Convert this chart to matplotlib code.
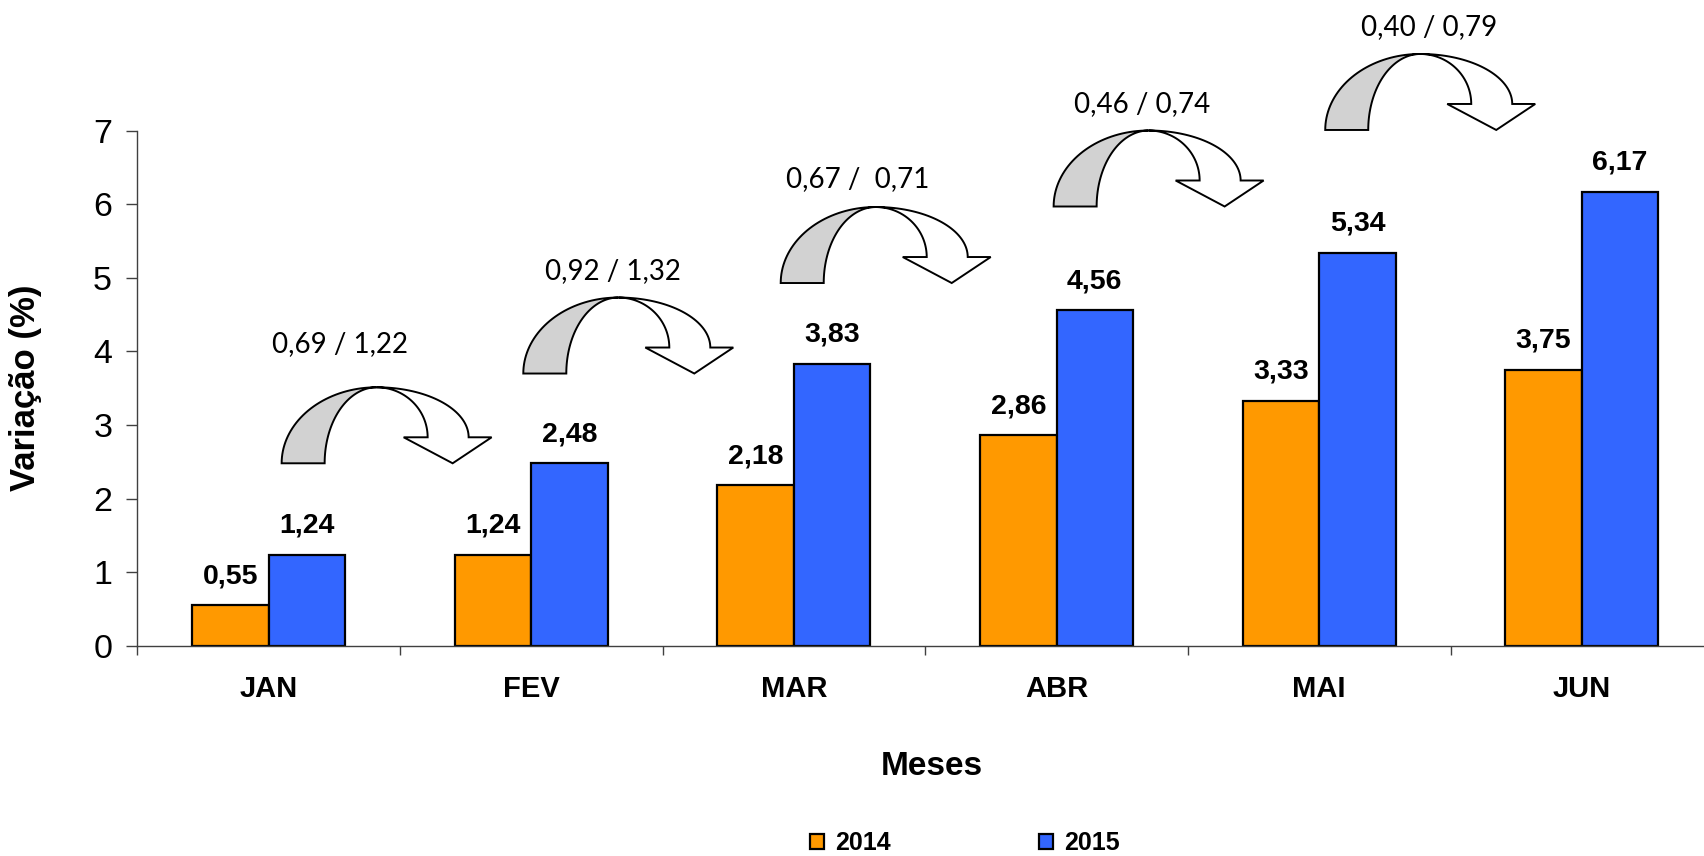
import numpy as np
import matplotlib
matplotlib.use('Agg')
from matplotlib import pyplot as plt
from matplotlib import transforms as mtransforms
from matplotlib.patches import Patch, Polygon

plt.rcParams['font.family'] = ['Liberation Sans', 'DejaVu Sans']

months = ['JAN', 'FEV', 'MAR', 'ABR', 'MAI', 'JUN']
var_2014 = [0.55, 1.24, 2.18, 2.86, 3.33, 3.75]
var_2015 = [1.24, 2.48, 3.83, 4.56, 5.34, 6.17]
# variacao mensal 2014 / 2015 escrita sobre as setas
monthly_text = ['0,69 / 1,22', '0,92 / 1,32', '0,67 /  0,71', '0,46 / 0,74', '0,40 / 0,79']

# onde ficam as setas e os textos (coordenadas dos dados)
arrow_x = [0.050, 0.970, 1.950, 2.989, 4.023]
arrow_y = [2.48, 3.70, 4.93, 5.97, 7.01]
text_x = [0.271, 1.313, 2.244, 3.326, 4.420]
text_y = [3.99, 4.99, 6.24, 7.26, 8.30]

ORANGE = '#FF9900'
BLUE = '#3366FF'


def fmt(v):
    return f'{v:.2f}'.replace('.', ',')


def arc(cx, cy, rx, ry, a0, a1, n=40):
    t = np.radians(np.linspace(a0, a1, n))
    return np.column_stack([cx + rx * np.cos(t), cy + ry * np.sin(t)])


def curved_arrow(ax, x0, y0):
    ''' seta curva (estilo powerpoint), desenhada em pixels a partir de (x0, y0) '''
    k = ax.figure.dpi / 100
    trans = mtransforms.Affine2D().scale(k) + \
        mtransforms.ScaledTranslation(x0, y0, ax.transData)
    back = np.vstack([arc(95, 0, 95, 76, 180, 90), arc(95, 0, 52, 76, 90, 180)])
    front = np.vstack([arc(95, 26, 92, 50, 90, 0),
                       [[210, 26], [171, 0], [122, 26]],
                       arc(95, 26, 51, 50, 0, 90)])
    for pts, fc in ((back, '#D2D2D2'), (front, 'white')):
        ax.add_patch(Polygon(pts, closed=True, facecolor=fc, edgecolor='black',
                             linewidth=1.4, transform=trans, clip_on=False, zorder=3))


fig = plt.figure(figsize=(17.04, 8.56), dpi=100)
ax = fig.add_axes([0.0805, 0.2456, 0.9249, 0.6017])

x = np.arange(len(months))
w = 0.291
b1 = ax.bar(x - w / 2, var_2014, w, color=ORANGE, edgecolor='black', linewidth=1.6)
b2 = ax.bar(x + w / 2, var_2015, w, color=BLUE, edgecolor='black', linewidth=1.6)

for xs, vals in ((x - w / 2, var_2014), (x + w / 2, var_2015)):
    for xi, v in zip(xs, vals):
        ax.annotate(fmt(v), (xi, v), xytext=(0, 16), textcoords='offset points',
                    ha='center', va='baseline', fontsize=20.5, fontweight='bold')

for ax_, ay, tx, ty, s in zip(arrow_x, arrow_y, text_x, text_y, monthly_text):
    curved_arrow(ax, ax_, ay)
    ax.text(tx, ty, s, ha='center', va='baseline', fontsize=20, family='Lato')

ax.set_xlim(-0.5, 5.5)
ax.set_ylim(0, 7)
for side in ('top', 'right'):
    ax.spines[side].set_visible(False)
for side in ('left', 'bottom'):
    ax.spines[side].set_color('#404040')
    ax.spines[side].set_linewidth(1.0)

ax.set_yticks(range(8))
ax.tick_params(axis='y', direction='out', length=8, width=1, color='#404040',
               labelsize=24.5, pad=10)
ax.set_xticks(x)
ax.set_xticklabels(months, fontsize=21, fontweight='bold')
ax.set_xticks(np.arange(-0.5, 6, 1), minor=True)
ax.tick_params(axis='x', which='major', length=0, pad=21)
ax.tick_params(axis='x', which='minor', direction='out', length=6.5, width=1, color='#404040')

ax.set_ylabel('Variação (%)', fontsize=25, fontweight='bold')
ax.yaxis.set_label_coords(-0.0706, 0.5)
ax.yaxis.label.set_va('center')
ax.set_xlabel('Meses', fontsize=24, fontweight='bold')
ax.xaxis.set_label_coords(0.5043, -0.2353)
ax.xaxis.label.set_va('center')

handles = [Patch(facecolor=ORANGE, edgecolor='black', linewidth=1.6),
           Patch(facecolor=BLUE, edgecolor='black', linewidth=1.6)]
fig.legend(handles, ['2014', '2015'], loc='center', bbox_to_anchor=(0.5663, 0.0152),
           ncol=2, frameon=False, prop={'weight': 'bold', 'size': 18},
           handlelength=0.56, handleheight=0.56, handletextpad=0.44,
           columnspacing=5.96, borderpad=0)

fig.savefig('out.png', dpi=100)
